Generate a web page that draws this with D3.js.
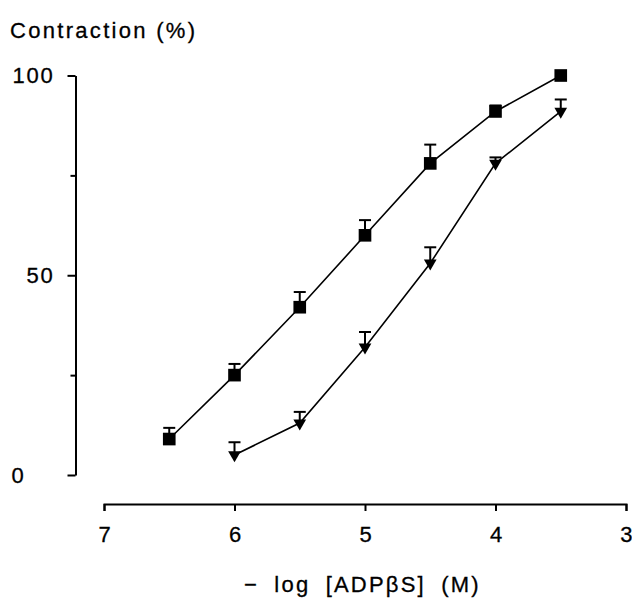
<!DOCTYPE html>
<html><head><meta charset="utf-8">
<script src="https://cdn.jsdelivr.net/npm/d3@7"></script>
<style>
body{margin:0;background:#fff;}
text{font-family:"Liberation Sans",Arial,sans-serif;fill:#000;}
</style></head>
<body>
<svg id="c" width="632" height="599"></svg>
<script>
const logConc = [6.5, 6, 5.5, 5, 4.5, 4, 3.5];
const squareMean = [9, 25, 42, 60, 78, 91, 100];
const squareErr  = [2.8, 2.8, 3.8, 3.8, 4.7, 1.5, 0];
const triConc = [6, 5.5, 5, 4.5, 4, 3.5];
const triMean = [5, 13, 32, 53, 78, 91];
const triErr  = [3.2, 2.8, 3.8, 4.0, 1.5, 3.0];
const xTicks = [7, 6, 5, 4, 3];
const yMajor = [0, 50, 100];
const yMinor = [25, 75];
const yTitle = "Contraction (%)";
const xTitle = "− log [ADPβS] (M)";

const FONT = "Liberation Sans, Arial, sans-serif";
const svg = d3.select("#c");
const x = d3.scaleLinear().domain([7, 3]).range([104, 626]);
const y = d3.scaleLinear().domain([0, 100]).range([475, 75.5]);

// Y axis
const yAx = svg.append("g").attr("transform", "translate(75.5,0)")
  .call(d3.axisLeft(y).tickValues(yMajor).tickFormat(d3.format("d"))
    .tickSize(8).tickPadding(13).tickSizeOuter(0));
yAx.select(".domain").attr("stroke-width", 2);
yAx.selectAll(".tick line").attr("stroke-width", 2);
yAx.selectAll(".tick text").attr("font-size", 22).attr("letter-spacing", 1.8)
  .attr("font-family", FONT).attr("stroke", "#000").attr("stroke-width", 0.3);
yAx.selectAll(".tick text").filter(d => d === 0).attr("text-anchor", "start").attr("x", -64);
svg.append("g").attr("transform", "translate(75.5,0)")
  .call(d3.axisLeft(y).tickValues(yMinor).tickSize(5).tickFormat(""))
  .call(g => g.select(".domain").remove())
  .selectAll(".tick line").attr("stroke-width", 2);

// X axis
const xAx = svg.append("g").attr("transform", "translate(0,504)")
  .call(d3.axisBottom(x).tickValues(xTicks).tickFormat(d3.format("d"))
    .tickSize(7).tickPadding(15).tickSizeOuter(7));
xAx.select(".domain").attr("stroke-width", 2);
xAx.selectAll(".tick line").attr("stroke-width", 2);
xAx.selectAll(".tick text").attr("font-size", 22)
  .attr("font-family", FONT).attr("stroke", "#000").attr("stroke-width", 0.3);
xAx.selectAll(".tick text").filter(d => d === 3).attr("text-anchor", "end").attr("dx", 6);

// Titles
svg.append("text").attr("x", 10).attr("y", 38).attr("font-size", 22)
  .attr("letter-spacing", 2.3).attr("stroke", "#000").attr("stroke-width", 0.3).text(yTitle);
svg.append("text").attr("x", 244).attr("y", 592).attr("font-size", 22)
  .attr("letter-spacing", 2.2).attr("word-spacing", 7)
  .attr("stroke", "#000").attr("stroke-width", 0.3).text(xTitle);

const line = d3.line().x(d => x(d[0])).y(d => y(d[1]));

function series(conc, mean, err, shape) {
  const data = conc.map((c, i) => [c, mean[i], err[i]]);
  svg.append("path").datum(data).attr("d", line)
    .attr("fill", "none").attr("stroke", "#000").attr("stroke-width", 1.6);
  const eb = svg.append("g");
  data.filter(d => d[2] > 0).forEach(d => {
    eb.append("line").attr("x1", x(d[0])).attr("x2", x(d[0]))
      .attr("y1", y(d[1])).attr("y2", y(d[1] + d[2]))
      .attr("stroke", "#000").attr("stroke-width", 2);
    eb.append("line").attr("x1", x(d[0]) - 6).attr("x2", x(d[0]) + 6)
      .attr("y1", y(d[1] + d[2])).attr("y2", y(d[1] + d[2]))
      .attr("stroke", "#000").attr("stroke-width", 2);
  });
  const sym = shape === "square"
    ? d3.symbol().type(d3.symbolSquare).size(160)
    : d3.symbol().type(d3.symbolTriangle).size(70);
  svg.append("g").selectAll("path").data(data).join("path")
    .attr("d", sym)
    .attr("transform", d => `translate(${x(d[0])},${y(d[1])})` + (shape === "square" ? "" : " rotate(180)"))
    .attr("fill", "#000");
}
series(logConc, squareMean, squareErr, "square");
series(triConc, triMean, triErr, "tri");
</script>
</body></html>
